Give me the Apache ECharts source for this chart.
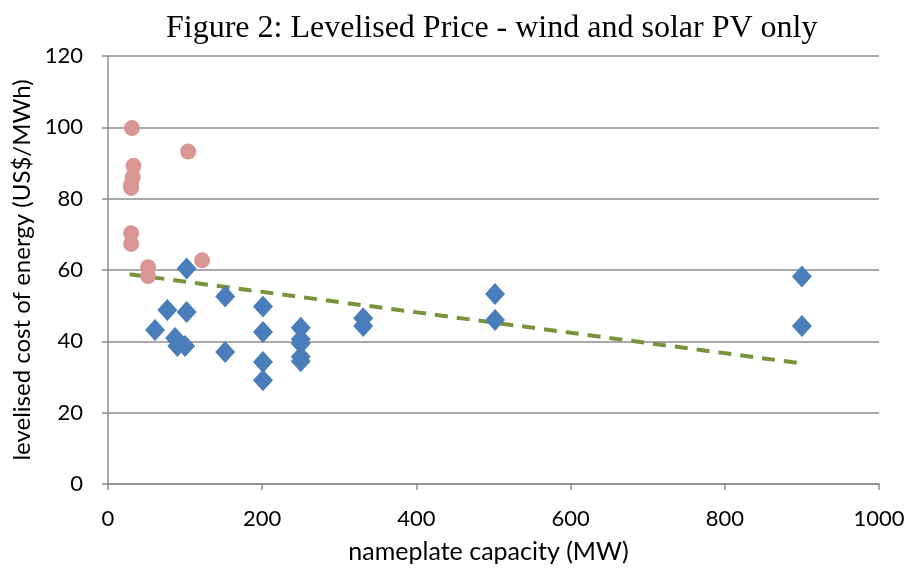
<!DOCTYPE html>
<html><head><meta charset="utf-8">
<script src="https://cdn.jsdelivr.net/npm/echarts@6/dist/echarts.min.js"></script>
<style>html,body{margin:0;padding:0;background:#fff}#c{width:909px;height:574px}</style>
</head><body><div id="c"></div>
<script>
const solarX = [31, 104, 33, 32, 30, 30, 30, 30, 52, 52, 122];
const solarY = [99.8, 93.2, 89.2, 86.0, 84.0, 83.0, 70.3, 67.3, 60.8, 58.3, 62.7];
const windX = [102, 152, 77, 102, 201, 61, 201, 87, 90, 100, 152, 201, 201, 250, 250, 250, 250, 250, 331, 331, 502, 502, 900, 900];
const windY = [60.4, 52.6, 48.8, 48.2, 49.8, 43.2, 42.6, 40.9, 38.7, 38.7, 37.0, 34.2, 29.1, 43.8, 40.6, 39.4, 35.7, 34.4, 46.5, 44.3, 53.3, 46.0, 58.2, 44.3];
const trendX = [28, 900];
const trendY = [58.8, 33.8];
const xTicks = {min: 0, max: 1000, interval: 200};
const yTicks = {min: 0, max: 120, interval: 20};

const zip = (a, b) => a.map((v, i) => [v, b[i]]);
const fam = 'Lato, Open Sans, sans-serif';
const tickFont = {fontFamily: fam, fontSize: 22, color: '#000'};
const chart = echarts.init(document.getElementById('c'), null, {renderer: 'canvas'});
chart.setOption({
  animation: false,
  title: {text: 'Figure 2: Levelised Price - wind and solar PV only', left: 161, top: 8,
    textStyle: {fontFamily: 'Liberation Serif, Times New Roman, serif', fontWeight: 'normal', fontSize: 32, color: '#000'}},
  grid: {left: 108, right: 30, top: 56, bottom: 90},
  xAxis: {type: 'value', min: xTicks.min, max: xTicks.max, interval: xTicks.interval,
    name: 'nameplate capacity (MW)', nameLocation: 'middle', nameGap: 55,
    nameTextStyle: {fontFamily: fam, fontSize: 25, color: '#000', padding: [0, 10, 0, 0]},
    axisLine: {show: true, lineStyle: {color: '#8c8c8c', width: 1.5}},
    axisTick: {show: true, length: 6, lineStyle: {color: '#8c8c8c', width: 1.5}},
    axisLabel: Object.assign({margin: 24, formatter: v => String(v)}, tickFont),
    splitLine: {show: false}},
  yAxis: {type: 'value', min: yTicks.min, max: yTicks.max, interval: yTicks.interval,
    name: 'levelised cost of energy (US$/MWh)', nameLocation: 'middle', nameGap: 72,
    nameTextStyle: {fontFamily: fam, fontSize: 24, color: '#000'},
    axisLine: {show: true, lineStyle: {color: '#8c8c8c', width: 1.5}},
    axisTick: {show: true, length: 6, lineStyle: {color: '#8c8c8c', width: 1.5}},
    axisLabel: Object.assign({margin: 25}, tickFont),
    splitLine: {show: true, lineStyle: {color: '#8c8c8c', width: 1.5}}},
  series: [
    {type: 'line', data: zip(trendX, trendY), symbol: 'none', z: 1,
      lineStyle: {color: '#77933C', width: 4, type: [13, 9]}},
    {type: 'scatter', data: zip(windX, windY), symbol: 'diamond', symbolSize: [20, 22], z: 3,
      itemStyle: {color: '#4A7EBB', opacity: 1}},
    {type: 'scatter', data: zip(solarX, solarY), symbol: 'circle', symbolSize: 16, z: 2,
      itemStyle: {color: '#D99694', opacity: 1}}
  ]
});
</script></body></html>
